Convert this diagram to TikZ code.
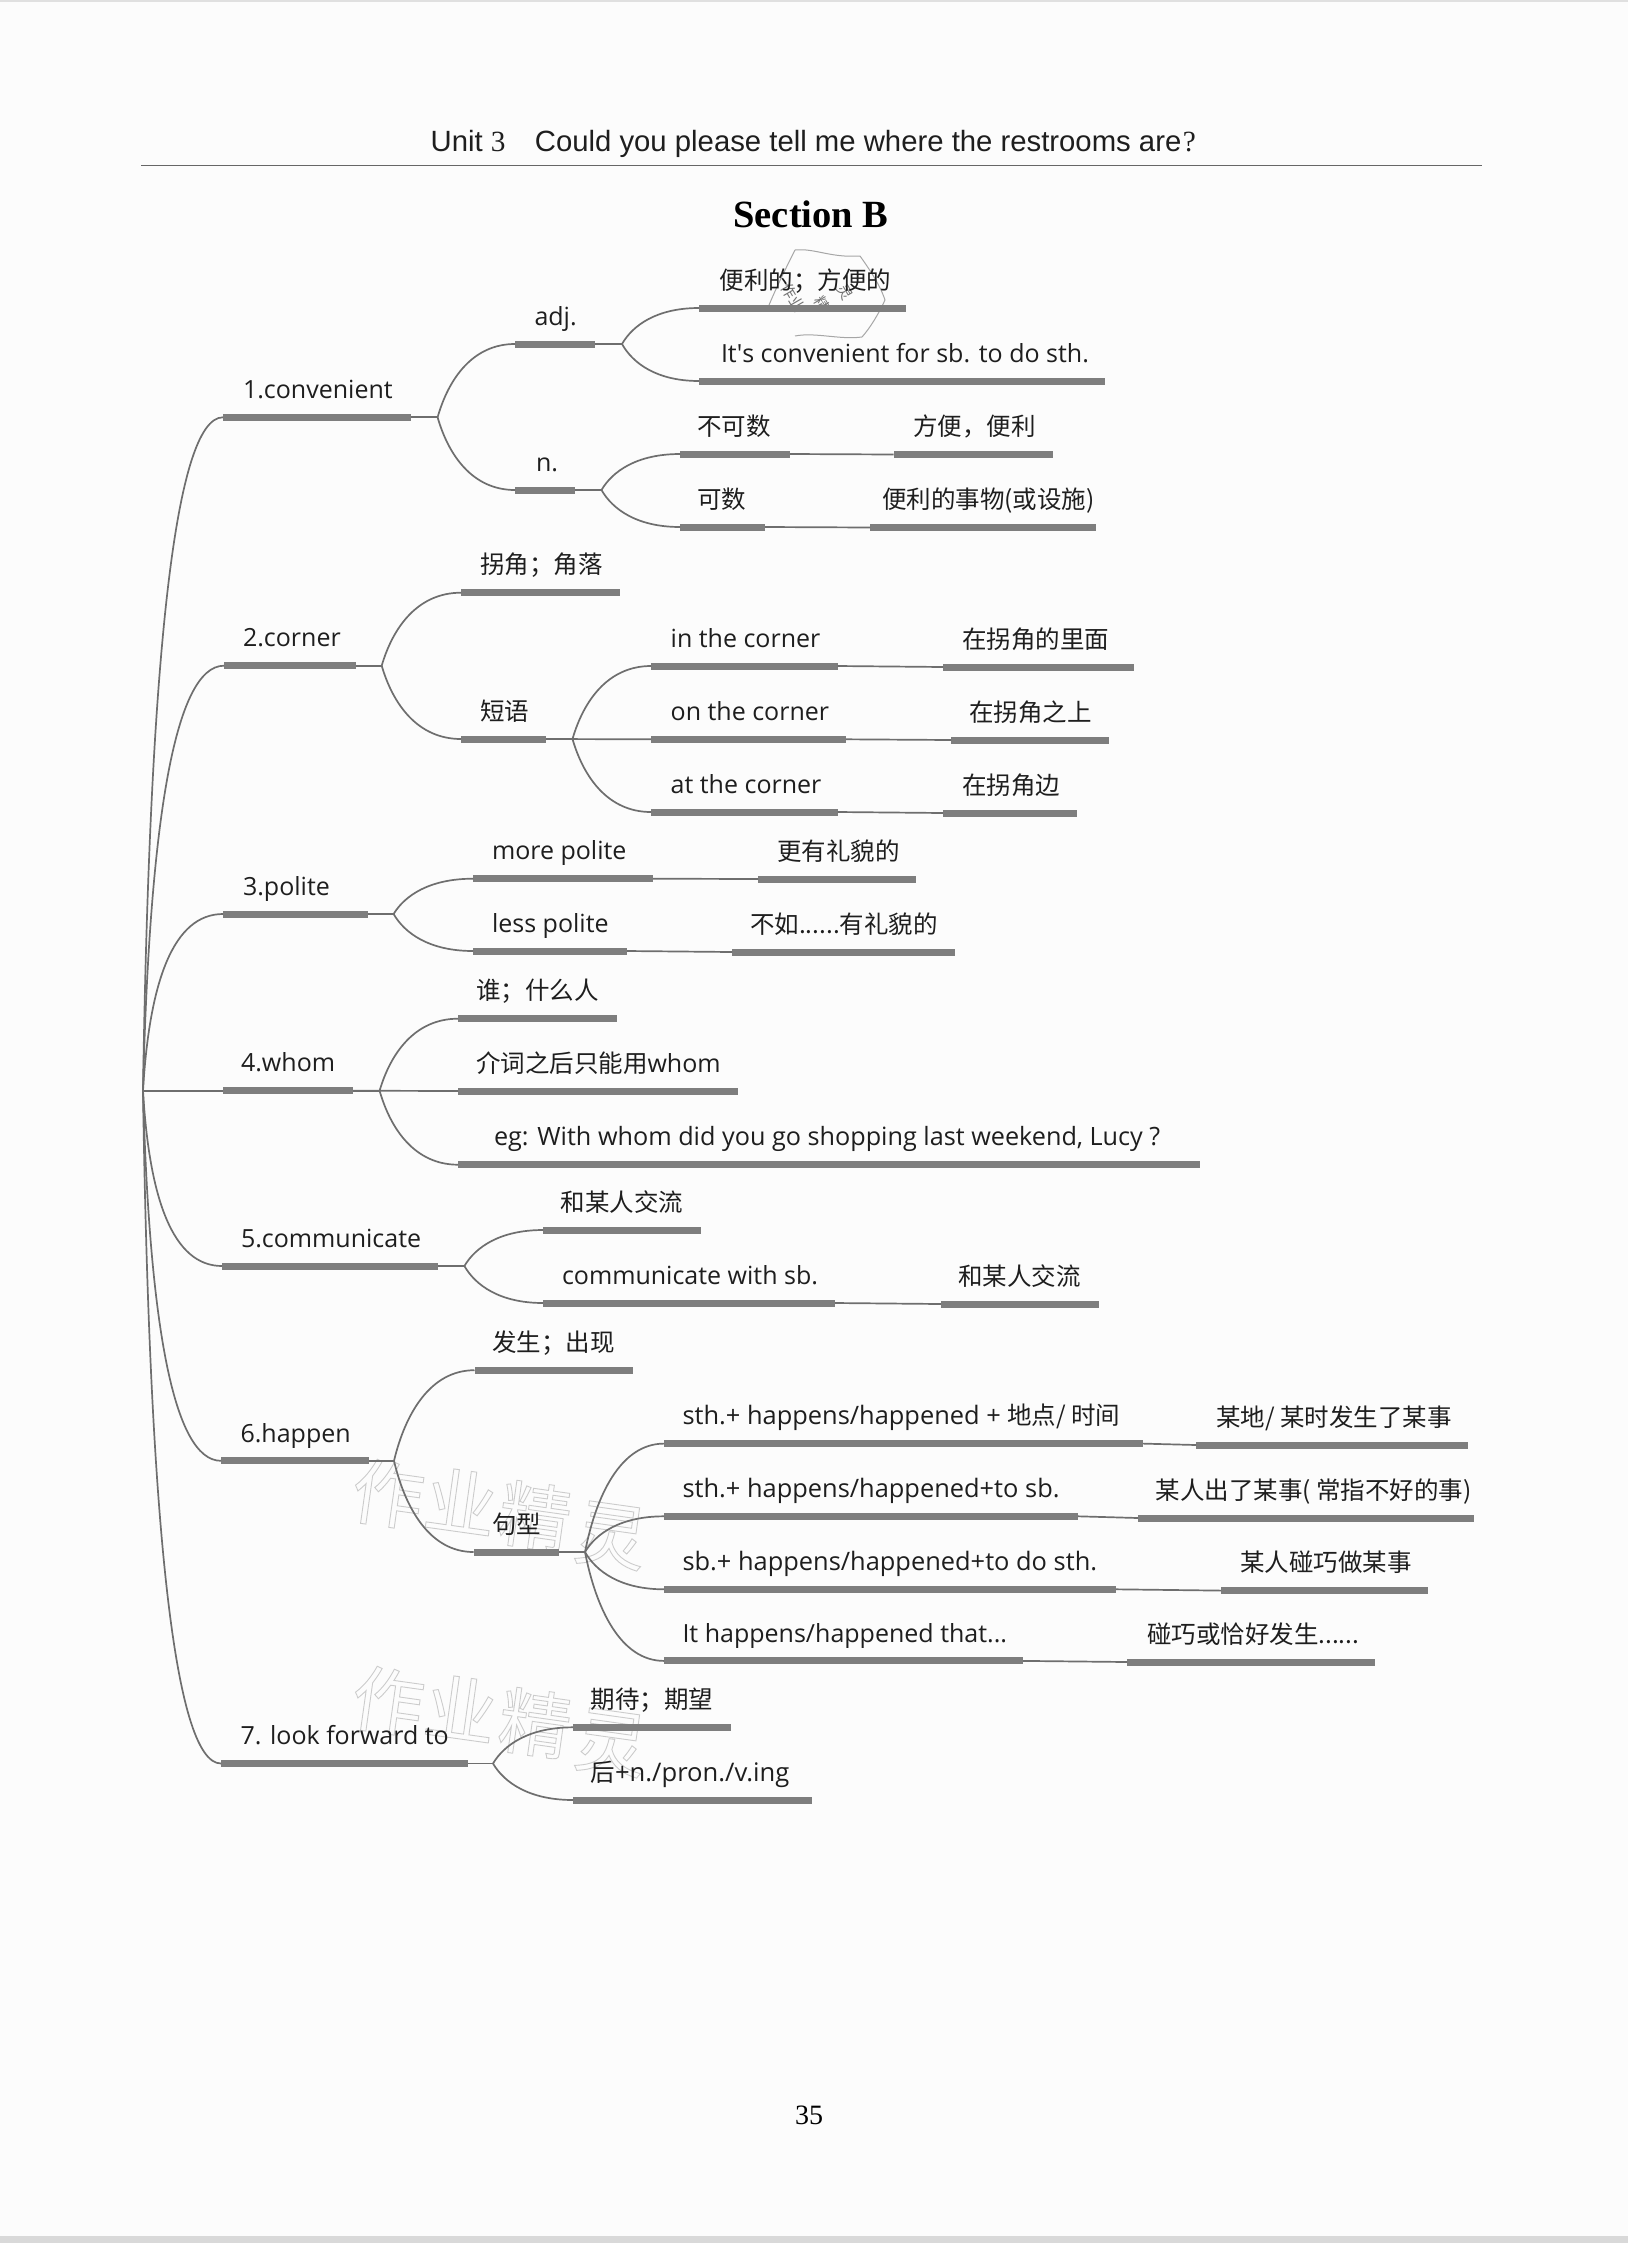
\documentclass[tikz,border=0pt]{standalone}
\usepackage{fontspec}
\setmainfont{Open Sans}
\newfontfamily\plainf{Open Sans}
\newfontfamily\cjkf{Noto Sans CJK SC}
\newfontfamily\hdrf{Liberation Sans}
\newfontfamily\serf{Liberation Serif}
\usetikzlibrary{calc}
\newcommand{\zh}[1]{{\cjkf\fontsize{24.5}{28}\selectfont #1}}
\newcommand{\wmk}[1]{\special{pdf:code 1 Tr 0.9 w 0.80 G}#1\special{pdf:code 0 Tr}}
\definecolor{barc}{HTML}{7E7E7E}
\definecolor{linkc}{HTML}{6E6E6E}
\definecolor{inkc}{HTML}{1E1E1E}
\definecolor{wmc}{HTML}{D2D2D2}
\tikzset{
  barnode/.style={fill=barc,draw=none,inner sep=0pt,minimum height=7pt,outer sep=0pt},
  lab/.style={inner sep=0pt,outer sep=0pt,anchor=base west,text=inkc,font=\fontsize{25}{28}\selectfont},
  link/.style={draw=linkc,line width=1.7pt},
  wm/.style={inner sep=0pt,text=wmc,font=\cjkf\fontsize{72}{76}\selectfont,rotate=-8},
  stampline/.style={draw=black!35,line width=1pt},
  stamptxt/.style={inner sep=0pt,text=black!55,font=\cjkf\fontsize{15}{16}\selectfont,rotate=-60}
}
\newcommand{\hp}[1]{{\fontsize{25.4}{28}\selectfont #1}}
% name, x1, x2, y, text-left, text
\newcommand{\itm}[6]{%
  \pgfmathsetmacro{\xmid}{(#2+#3)/2}\pgfmathsetmacro{\wdd}{#3-#2}\pgfmathsetmacro{\blin}{#4-18.8}%
  \node[barnode,minimum width=\wdd pt] (#1) at (\xmid pt,-#4 pt) {};
  \node[lab] (#1t) at (#5pt,-\blin pt) {#6};
}
\newcommand{\jun}[3]{\coordinate (#1) at (#2pt,-#3pt);}
\newcommand{\branch}[2]{\draw[link] let \p1=(#1),\p2=(#2.west),\n1={\x2-\x1},\n2={\y2-\y1} in
  (\p1) .. controls ($(\p1)+(0.14*\n1,0.52*\n2)$) and ($(\p2)-(0.55*\n1,0)$) .. (\p2);}
\newcommand{\rbranch}[2]{\draw[link] let \p1=(#1),\p2=(#2.west),\n1={\x2-\x1},\n2={\y2-\y1} in
  (\p1) .. controls ($(\p1)+(0.08*\n1,0.62*\n2)$) and ($(\p2)-(0.62*\n1,0)$) .. (\p2);}
\newcommand{\stm}[2]{\draw[link] (#1.east) -- (#2);}
\newcommand{\lnk}[2]{\draw[link] (#1.east) -- (#2.west);}
\begin{document}
\begin{tikzpicture}[x=1pt,y=1pt]
\useasboundingbox (0,0) rectangle (1628,-2243);
\fill[white!99!black] (0,0) rectangle (1628,-2243);
\fill[black!15] (0,-2236) rectangle (1628,-2243);
\fill[black!12] (0,0) rectangle (1628,-2);
% watermarks
\foreach \dy/\nm in {0/a,207/b}{
  \node[wm] (wm\nm1) at (388pt,{-(1494+\dy)*1pt}) {\wmk{作}};
  \node[wm] (wm\nm2) at (461pt,{-(1501+\dy)*1pt}) {\wmk{业}};
  \node[wm] (wm\nm3) at (535pt,{-(1516+\dy)*1pt}) {\wmk{精}};
  \node[wm] (wm\nm4) at (611pt,{-(1536+\dy)*1pt}) {\wmk{灵}};
}
% stamp
\draw[stampline] (795,-250) .. controls (815,-248) and (830,-258) .. (860,-256);
\draw[stampline] (795,-250) .. controls (785,-270) and (775,-290) .. (767,-310);
\draw[stampline] (795,-336) .. controls (815,-332) and (840,-340) .. (862,-337);
\draw[stampline] (860,-256) .. controls (870,-270) and (880,-285) .. (885,-300);
\draw[stampline] (885,-300) .. controls (878,-315) and (870,-328) .. (862,-337);
\node[stamptxt] (st1) at (793pt,-298pt) {作业};
\node[stamptxt] (st2) at (822pt,-304pt) {精};
\node[stamptxt] (st3) at (845pt,-292pt) {灵};
% header
\node[inner sep=0pt,anchor=base west,text=inkc,font=\hdrf\fontsize{29.3}{32}\selectfont] (hdr) at (430.5pt,-151.5pt) {Unit {\serf 3}\hspace{1em}Could you please tell me where the restrooms are\hspace{0.05em}{\serf ?}};
\coordinate (ruleL) at (141pt,-165.5pt);
\coordinate (ruleR) at (1482pt,-165.5pt);
\draw[draw=black!60,line width=1.4pt] (ruleL) -- (ruleR);
\node[inner sep=0pt,text=black,font=\serf\bfseries\fontsize{38.5}{42}\selectfont] (sec) at (811pt,-214pt) {Section B};
\node[inner sep=0pt,text=black,font=\serf\fontsize{28}{30}\selectfont] (pg) at (809pt,-2115pt) {35};
% root
\coordinate (root) at (143pt,-1090.7pt);
% 1
\itm{c1}{223}{411}{417.3}{243}{1.convenient}
\itm{adj}{515}{595}{344}{534.5}{adj.}
\itm{nn}{515}{575}{490}{536}{n.}
\itm{a1}{699}{906}{308}{719.5}{\zh{便利的；方便的}}
\itm{a2}{699}{1105}{381}{721}{It{\plainf '}s convenient for sb. to do sth.}
\itm{n1}{680}{790}{454}{697}{\zh{不可数}}
\itm{n1r}{893.6}{1053}{454.5}{913}{\zh{方便，便利}}
\itm{n2}{680}{765}{527}{697}{\zh{可数}}
\itm{n2r}{870}{1096}{527.5}{882}{\zh{便利的事物(或设施)}}
\jun{jc1}{437.6}{417.3}\jun{jadj}{622}{344}\jun{jn}{601.5}{490}
\rbranch{root}{c1}
\stm{c1}{jc1}\branch{jc1}{adj}\branch{jc1}{nn}
\stm{adj}{jadj}\branch{jadj}{a1}\branch{jadj}{a2}
\stm{nn}{jn}\branch{jn}{n1}\branch{jn}{n2}
\lnk{n1}{n1r}\lnk{n2}{n2r}
% 2
\itm{c2}{224}{356}{665.7}{243}{2.corner}
\itm{b1}{461}{619.5}{592.7}{480}{\zh{拐角；角落}}
\itm{b2}{461}{546}{739}{480}{\zh{短语}}
\itm{p1}{651}{837.6}{666}{670.7}{in the corner}
\itm{p1r}{943}{1133.7}{667}{962}{\zh{在拐角的里面}}
\itm{p2}{651}{846}{739.3}{670.7}{on the corner}
\itm{p2r}{951}{1109}{740}{969}{\zh{在拐角之上}}
\itm{p3}{651}{837.6}{812}{670.7}{at the corner}
\itm{p3r}{943}{1077}{813}{962}{\zh{在拐角边}}
\jun{jc2}{381.7}{665.7}\jun{jb2}{572.5}{739}
\rbranch{root}{c2}
\stm{c2}{jc2}\branch{jc2}{b1}\branch{jc2}{b2}
\stm{b2}{jb2}\branch{jb2}{p1}\stm{b2}{p2.west}\branch{jb2}{p3}
\lnk{p1}{p1r}\lnk{p2}{p2r}\lnk{p3}{p3r}
% 3
\itm{c3}{223}{367.6}{914}{243}{3.polite}
\itm{m1}{473}{653}{878.7}{492}{more polite}
\itm{m1r}{758}{916}{879}{777}{\zh{更有礼貌的}}
\itm{m2}{473}{627}{951}{492}{less polite}
\itm{m2r}{732}{955}{952}{750}{\zh{不如......有礼貌的}}
\jun{jc3}{393.6}{914}
\rbranch{root}{c3}
\stm{c3}{jc3}\branch{jc3}{m1}\branch{jc3}{m2}
\lnk{m1}{m1r}\lnk{m2}{m2r}
% 4
\itm{c4}{223}{353}{1090.7}{241}{4.whom}
\itm{w1}{458}{616.7}{1018.7}{476}{\zh{谁；什么人}}
\itm{w2}{458}{738}{1091}{476}{\zh{介词之后只能用}whom}
\itm{w3}{458}{1200}{1164.7}{494}{\fontsize{25.2}{28}\selectfont eg: With whom did you go shopping last weekend, Lucy ?}
\jun{jc4}{379.6}{1090.7}
\draw[link] (root) -- (c4.west);
\stm{c4}{jc4}\branch{jc4}{w1}\stm{c4}{w2.west}\branch{jc4}{w3}
% 5
\itm{c5}{222}{438}{1266}{241}{5.communicate}
\itm{h1}{543}{701}{1230}{560.5}{\zh{和某人交流}}
\itm{h2}{543}{835}{1303}{562}{communicate with sb.}
\itm{h2r}{940.8}{1098.6}{1304}{958}{\zh{和某人交流}}
\jun{jc5}{464.4}{1266}
\rbranch{root}{c5}
\stm{c5}{jc5}\branch{jc5}{h1}\branch{jc5}{h2}
\lnk{h2}{h2r}
% 6
\itm{c6}{221}{369}{1460.8}{240.5}{6.happen}
\itm{f1}{474.5}{632.5}{1370.2}{492}{\zh{发生；出现}}
\itm{f2}{473.6}{559}{1552}{492}{\zh{句型}}
\itm{s1}{664}{1143}{1443.6}{682.5}{\hp{sth.+ happens/happened +} \zh{地点/ 时间}}
\itm{s1r}{1196}{1468}{1445}{1216}{\zh{某地/ 某时发生了某事}}
\itm{s2}{664}{1078}{1516.3}{682.5}{\hp{sth.+ happens/happened+to sb.}}
\itm{s2r}{1138}{1473.5}{1518}{1155.7}{\zh{某人出了某事( 常指不好的事)}}
\itm{s3}{664}{1116}{1589.3}{682.5}{\hp{sb.+ happens/happened+to do sth.}}
\itm{s3r}{1221}{1428}{1590.6}{1240}{\zh{某人碰巧做某事}}
\itm{s4}{664}{1023}{1660.9}{682.5}{It happens/happened that...}
\itm{s4r}{1127}{1375}{1662}{1147}{\zh{碰巧或恰好发生......}}
\jun{jc6}{394}{1460.8}\jun{jf2}{585}{1552}
\rbranch{root}{c6}
\stm{c6}{jc6}\branch{jc6}{f1}\branch{jc6}{f2}
\stm{f2}{jf2}\branch{jf2}{s1}\branch{jf2}{s2}\branch{jf2}{s3}\branch{jf2}{s4}
\lnk{s1}{s1r}\lnk{s2}{s2r}\lnk{s3}{s3r}\lnk{s4}{s4r}
% 7
\itm{c7}{221}{468}{1763.5}{240.5}{7. look forward to}
\itm{q1}{573}{731}{1727.3}{590.5}{\zh{期待；期望}}
\itm{q2}{573}{812}{1800}{590.5}{\zh{后}\fontsize{25.6}{28}\selectfont +n./pron./v.ing}
\jun{jc7}{493}{1763.5}
\rbranch{root}{c7}
\stm{c7}{jc7}\branch{jc7}{q1}\branch{jc7}{q2}
\end{tikzpicture}
\end{document}
